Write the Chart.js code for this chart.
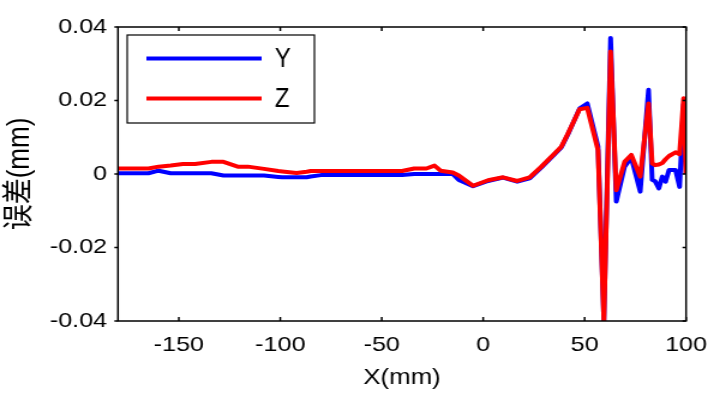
<!DOCTYPE html>
<html>
<head>
<meta charset="utf-8">
<script src="https://cdn.jsdelivr.net/npm/chart.js@4/dist/chart.umd.min.js"></script>
<style>
  html, body { margin: 0; padding: 0; background: #fff; overflow: hidden; }
  #wrap { width: 595px; height: 396px; transform: scaleX(1.2); transform-origin: 0 0; }
  canvas { display: block; }
</style>
</head>
<body>
<div id="wrap"><canvas id="c" width="595" height="396"></canvas></div>
<script>
// ---- data ----
const xPositions = [-180, -165, -160, -154, -148, -142, -134, -128, -121, -116, -108, -101, -99, -92, -87, -85, -80, -40, -34, -28, -24, -21, -15, -12, -5, 2.4, 9.8, 16.8, 22.9, 28.7, 35.2, 38.5, 41.8, 47.5, 51.3, 56.6, 59.5, 62.8, 65.6, 69.7, 73, 77.4, 81.5, 83.3, 84.8, 86.6, 88.3, 89.9, 91.6, 94.8, 96.8, 98.8, 100];
const errorY = [0.0002, 0.0002, 0.0009, 0.0002, 0.0002, 0.0002, 0.0002, -0.0004, -0.0004, -0.0004, -0.0004, -0.0008, -0.0009, -0.0009, -0.0009, -0.0007, -0.0003, -0.0003, 0, 0, 0, 0, 0, -0.0016, -0.0033, -0.0019, -0.001, -0.0021, -0.0012, 0.0018, 0.0054, 0.0072, 0.0108, 0.0178, 0.0192, 0.0075, -0.04, 0.037, -0.0075, 0.002, 0.0045, -0.0048, 0.0229, -0.0016, -0.002, -0.0039, -0.0007, -0.0021, 0.0011, 0.0011, -0.0035, 0.019, 0];
const errorZ = [0.0015, 0.0015, 0.002, 0.0023, 0.0027, 0.0027, 0.0033, 0.0033, 0.002, 0.002, 0.0014, 0.0008, 0.0007, 0.0003, 0.0006, 0.0008, 0.0008, 0.0008, 0.0015, 0.0015, 0.0023, 0.0009, 0.0004, -0.0004, -0.0032, -0.0017, -0.0009, -0.0019, -0.0009, 0.002, 0.0056, 0.0074, 0.011, 0.0176, 0.018, 0.0065, -0.04, 0.0333, -0.0044, 0.0033, 0.0052, -0.0007, 0.0192, 0.0029, 0.0024, 0.0026, 0.003, 0.004, 0.0049, 0.0059, 0.0054, 0.0206, 0];
const seriesNames = ['Y', 'Z'];
const seriesColors = ['#0000ff', '#ff0000'];
const xRange = [-180, 100];
const yRange = [-0.04, 0.04];
const xTickValues = [-150, -100, -50, 0, 50, 100];
const yTickValues = [-0.04, -0.02, 0, 0.02, 0.04];
const xTitle = 'X(mm)';
const yTitle = '误差(mm)';

const toPoints = vals => vals.map((v, i) => ({ x: xPositions[i], y: v }));
const FONT = '"Liberation Sans", Arial, "Noto Sans CJK SC", sans-serif';

// box, ticks on all four sides, and legend
const boxPlugin = {
  id: 'boxPlugin',
  afterDraw(chart) {
    const { ctx, chartArea: a, scales } = chart;
    ctx.save();
    ctx.strokeStyle = '#000';
    ctx.lineWidth = 1.5;
    ctx.strokeRect(a.left, a.top, a.right - a.left, a.bottom - a.top);
    ctx.beginPath();
    scales.x.ticks.forEach(t => {
      const px = scales.x.getPixelForValue(t.value);
      ctx.moveTo(px, a.bottom); ctx.lineTo(px, a.bottom - 4);
      ctx.moveTo(px, a.top); ctx.lineTo(px, a.top + 4);
    });
    scales.y.ticks.forEach(t => {
      const py = scales.y.getPixelForValue(t.value);
      ctx.moveTo(a.left, py); ctx.lineTo(a.left - 3, py);
      ctx.moveTo(a.right, py); ctx.lineTo(a.right - 3, py);
    });
    ctx.stroke();

    // legend box
    const lx = 106, ly = 35, lw = 156, lh = 88;
    ctx.fillStyle = '#fff';
    ctx.fillRect(lx, ly, lw, lh);
    ctx.lineWidth = 1.2;
    ctx.strokeRect(lx, ly, lw, lh);
    const rows = [58.5, 98.5];
    chart.data.datasets.forEach((ds, i) => {
      const y = rows[i];
      ctx.strokeStyle = ds.borderColor;
      ctx.lineWidth = 4;
      ctx.beginPath();
      ctx.moveTo(122, y); ctx.lineTo(218, y);
      ctx.stroke();
      ctx.save();
      ctx.translate(229, y + 1);
      ctx.scale(1, 1.35);
      ctx.fillStyle = '#000';
      ctx.font = '20px ' + FONT;
      ctx.textAlign = 'left';
      ctx.textBaseline = 'middle';
      ctx.fillText(ds.label, 0, 0);
      ctx.restore();
    });
    ctx.restore();
  }
};

new Chart(document.getElementById('c'), {
  type: 'line',
  data: {
    datasets: [
      { label: seriesNames[0], data: toPoints(errorY), borderColor: seriesColors[0], backgroundColor: seriesColors[0], order: 1 },
      { label: seriesNames[1], data: toPoints(errorZ), borderColor: seriesColors[1], backgroundColor: seriesColors[1], order: 0 }
    ]
  },
  options: {
    responsive: false,
    animation: false,
    devicePixelRatio: 1,
    layout: { padding: { top: 27, right: 23.3, left: 0, bottom: 0 } },
    elements: {
      line: { borderWidth: 4, tension: 0, fill: false, borderJoinStyle: 'round', borderCapStyle: 'butt' },
      point: { radius: 0, hoverRadius: 0 }
    },
    plugins: { legend: { display: false }, tooltip: { enabled: false } },
    scales: {
      x: {
        type: 'linear', min: xRange[0], max: xRange[1],
        afterBuildTicks: s => { s.ticks = xTickValues.map(v => ({ value: v })); },
        afterFit: s => { s.height = 75; s.paddingLeft = 0; s.paddingRight = 0; },
        grid: { display: false, drawTicks: false },
        border: { display: false },
        ticks: { padding: 12, color: '#000', font: { family: FONT, size: 21 }, maxRotation: 0, autoSkip: false },
        title: { display: true, text: xTitle, color: '#000', font: { family: FONT, size: 21.5 }, padding: { top: 0, bottom: 5 } }
      },
      y: {
        type: 'linear', min: yRange[0], max: yRange[1],
        afterBuildTicks: s => { s.ticks = yTickValues.map(v => ({ value: v })); },
        afterFit: s => { s.width = 98.3; s.paddingTop = 0; s.paddingBottom = 0; },
        grid: { display: false, drawTicks: false },
        border: { display: false },
        ticks: {
          padding: 9, color: '#000', font: { family: FONT, size: 21 }, autoSkip: false,
          callback: v => (Math.abs(v) < 1e-9 ? '0' : String(+v.toFixed(2)))
        },
        title: { display: true, text: yTitle, color: '#000', font: { family: FONT, size: 26 }, padding: { top: 1, bottom: 0 } }
      }
    }
  },
  plugins: [boxPlugin]
});
</script>
</body>
</html>
